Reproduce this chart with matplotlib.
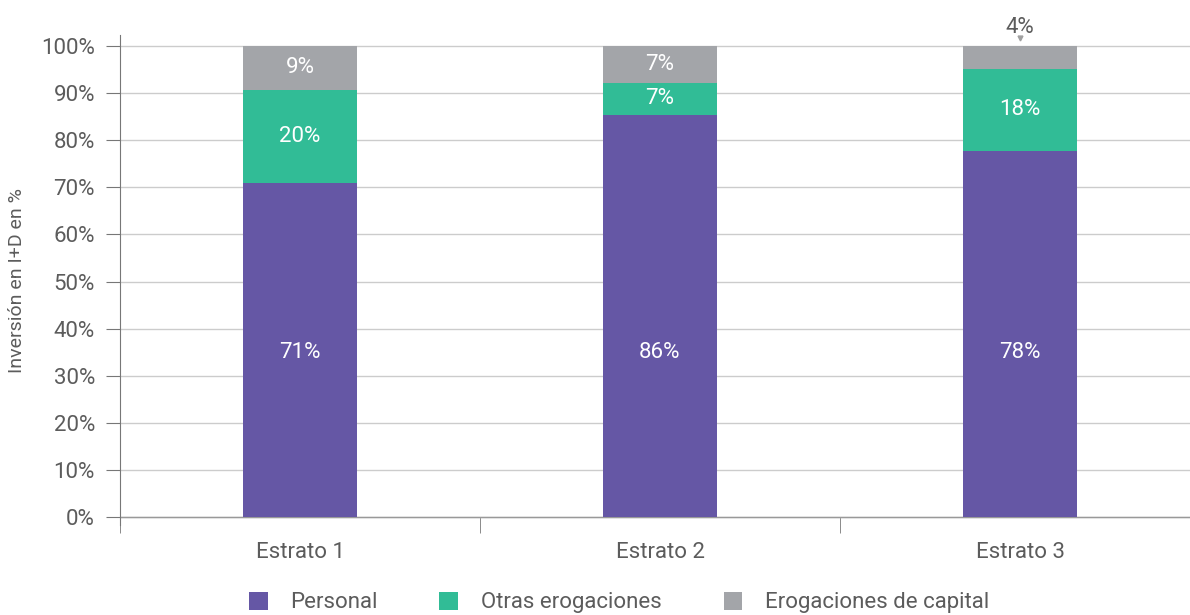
import matplotlib
matplotlib.use("Agg")
from matplotlib import pyplot as plt
import numpy as np

plt.rcParams['font.family'] = ['Roboto', 'DejaVu Sans']

categories = ["Estrato 1", "Estrato 2", "Estrato 3"]
series_names = ["Personal", "Otras erogaciones", "Erogaciones de capital"]
personal = [70.9, 85.4, 77.7]
otras = [19.8, 6.7, 17.5]
capital = [9.3, 7.9, 4.8]
personal_labels = ["71%", "86%", "78%"]
otras_labels = ["20%", "7%", "18%"]
capital_labels = ["9%", "7%", "4%"]

colors = ["#6557a5", "#31bc96", "#a3a5a9"]
text_gray = "#5c5c5c"
fs = 16

y_lo, y_hi = -0.017, 1.023
fig = plt.figure(figsize=(11.9, 6.15), dpi=100)
ax = fig.add_axes([120 / 1190, (615 - 517 - 0.017 * 471) / 615,
                   1080 / 1190, (y_hi - y_lo) * 471 / 615])

x = np.arange(len(categories))
width = 0.317
series = [personal, otras, capital]
labels = [personal_labels, otras_labels, capital_labels]
bottom = np.zeros(len(categories))
for vals, labs, col, name in zip(series, labels, colors, series_names):
    vals = np.array(vals) / 100
    ax.bar(x, vals, width, bottom=bottom, color=col, label=name, zorder=3)
    for i in range(len(categories)):
        if vals[i] > 0.06:
            ypos = bottom[i] + vals[i] / 2
            if vals[i] > 0.5:
                ypos = 0.35
            ax.text(x[i], ypos, labs[i], ha='center', va='center',
                    color='white', fontsize=fs, zorder=4)
        else:
            # small slice: label sits above the bar with a little pointer
            top = bottom[i] + vals[i]
            ax.text(x[i], top + 0.017, labs[i], ha='center', va='bottom',
                    color=text_gray, fontsize=fs, zorder=4, clip_on=False)
            ax.plot(x[i], top + 0.017, marker='v', markersize=3.5,
                    color='#a0a0a0', zorder=4, clip_on=False)
    bottom = bottom + vals

ax.set_xlim(-0.5, 2.5)
ax.set_ylim(y_lo, y_hi)
ax.set_yticks(np.arange(0, 1.01, 0.1))
ax.set_yticklabels(["{}%".format(v) for v in range(0, 101, 10)],
                   fontsize=fs, color=text_gray)
ax.set_xticks(x)
ax.set_xticklabels(categories, fontsize=fs, color=text_gray)
ax.set_xticks([-0.5, 0.5, 1.5, 2.5], minor=True)
ax.tick_params(axis='x', which='major', length=0, pad=12)
ax.tick_params(axis='x', which='minor', length=12, direction='inout',
               color='#777777')
ax.tick_params(axis='y', length=10, color='#777777', pad=8)
ax.grid(axis='y', color='#cccccc', linewidth=1, zorder=0)
for s in ['top', 'right', 'bottom']:
    ax.spines[s].set_visible(False)
ax.spines['left'].set_color('#777777')
ax.axhline(0, color='#999999', linewidth=1, zorder=2)

ax.set_ylabel("Inversión en I+D en %", fontsize=14, color=text_gray,
              labelpad=11)

fig.legend(loc='lower center', bbox_to_anchor=(0.52, -0.03), ncol=3,
           frameon=False, handlelength=0.85, handleheight=0.85,
           handletextpad=1.0, columnspacing=2.8, labelcolor=text_gray,
           prop={'size': 16})

fig.savefig("out.png", dpi=100)
